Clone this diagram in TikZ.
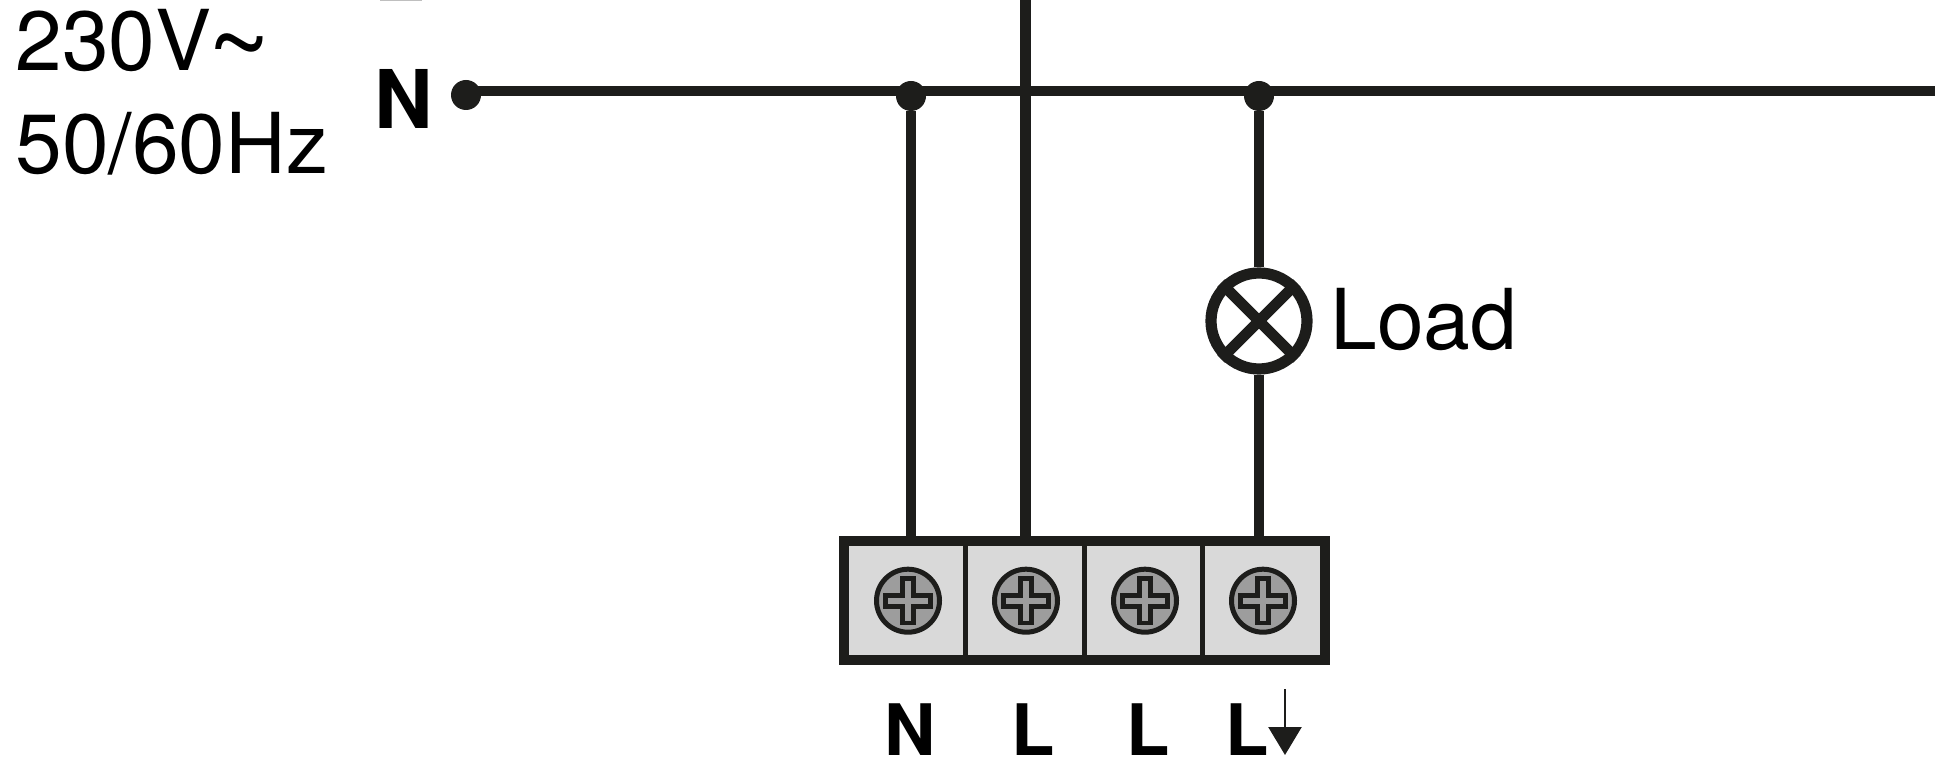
\documentclass[tikz,border=0pt]{standalone}
\usepackage{graphicx}
\usepackage{fontspec}
\setmainfont{TeX Gyre Heros}
\usetikzlibrary{arrows.meta}
\definecolor{ink}{HTML}{1D1D1B}
\definecolor{cellgray}{HTML}{D9D9D9}
\definecolor{screwgray}{HTML}{9D9D9D}
\tikzset{
    wire/.style={draw=ink,line width=5.4pt},
    dot/.style={circle,fill=ink,minimum size=15pt,inner sep=0mm},
    screw/.style={circle,draw=ink,fill=screwgray,line width=2.5pt,minimum size=31.5pt,inner sep=0mm},
    lamp/.style={circle,draw=ink,fill=white,line width=5.6pt,minimum size=48pt,inner sep=0mm},
    block/.style={draw=ink,fill=cellgray,line width=5pt,minimum width=240.5pt,minimum height=59.5pt,inner sep=0mm},
    bigtext/.style={anchor=base west,inner sep=0mm,font=\fontsize{42}{42}\selectfont},
    bigbold/.style={bigtext,font=\fontsize{40.5}{42}\selectfont\bfseries},
    termtext/.style={anchor=base west,inner sep=0mm,font=\fontsize{35.5}{36}\selectfont\bfseries}
}
\newcommand{\screwcross}[1] {
    \draw[draw=ink,fill=screwgray,line width=2.4pt] (#1) ++(-22.2,-5.4) -- ++(16.8,0) -- ++(0,-16.8) -- ++(10.8,0) -- ++(0,16.8)
        -- ++(16.8,0) -- ++(0,10.8) -- ++(-16.8,0) -- ++(0,16.8) -- ++(-10.8,0) -- ++(0,-16.8) -- ++(-16.8,0) -- cycle;
}
\begin{document}
\begin{tikzpicture}[x=0.5pt,y=-0.5pt]
    \useasboundingbox (0,0) rectangle (1935,775);
    % the cut off bar at the top
    \fill[gray!50] (380,0) rectangle (422,1.2);
    % texts
    \node[bigtext] (volt) at (15,71) {230V\kern-2pt\smash{\raisebox{-5.5pt}{\scalebox{1.3}{\symbol{126}}}}};
    \node[bigtext] (freq) at (15,173.5) {50/60Hz};
    \node[bigbold] (nbus) at (374,129) {N};
    \node[bigtext] (loadtext) at (1330,349.5) {Load};
    % bus and junctions
    \node[dot] (dotn) at (466,95) {};
    \node[dot] (dotl) at (911,96) {};
    \node[dot] (dotr) at (1259,96) {};
    \coordinate (busend) at (1935,91);
    \coordinate (livetop) at (1025.5,0);
    \node[block] (term) at (1084.5,600.5) {};
    \node[lamp] (load) at (1259,321) {};
    \draw[wire] (dotn.center |- busend) -- (busend);
    \draw[wire] (dotl) -- (dotl |- term.north);
    \draw[wire] (livetop) -- (livetop |- term.north);
    \draw[wire] (dotr) -- (load.north);
    \draw[wire] (load.south) -- (load.south |- term.north);
    \draw[wire] (load.45) -- (load.225);
    \draw[wire] (load.135) -- (load.315);
    % terminal block
    \foreach \name/\xpos in {a/965,b/1084,c/1202}
        \draw[draw=ink,line width=2.5pt] (\xpos,541) -- (\xpos,660);
    \foreach \name/\xpos in {a/908,b/1026,c/1145,d/1263} {
        \node[screw] (screw\name) at (\xpos,600.7) {};
        \screwcross{screw\name.center}
    }
    % terminal labels
    \node[termtext] (termn) at (884,755) {N};
    \node[termtext] (terml) at (1011,755) {L};
    \node[termtext] (termm) at (1126,755) {L};
    \node[termtext] (termr) at (1225,755) {L};
    \coordinate (arrtop) at (1285,689);
    \coordinate (arrtip) at (1285,755);
    \draw[ink,line width=1.35pt,-{Triangle[length=14pt,width=16.5pt]}] (arrtop) -- (arrtip);
\end{tikzpicture}
\end{document}
